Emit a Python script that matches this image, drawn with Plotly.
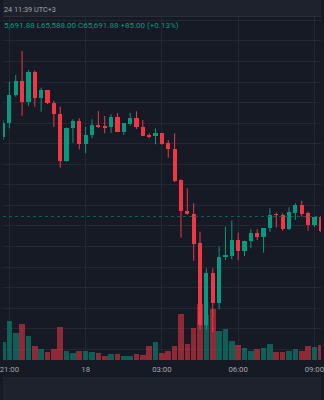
import pandas as pd
import plotly.graph_objects as go

# BTC 15-minute candles, 17 Jun 20:45 -> 18 Jun 09:15 (UTC+3)
times = pd.date_range("2024-06-17 20:45", periods=51, freq="15min")

opens = [66462.80, 66604.80, 66874.40, 67010.70, 66809.20, 67101.20, 66842.30, 66920.20,
         66796.60, 66692.40, 66235.00, 66550.30, 66621.40, 66397.50, 66485.10, 66582.50,
         66568.00, 66566.00, 66660.30, 66517.20, 66596.00, 66650.60, 66563.00, 66485.00,
         66475.50, 66501.70, 66404.40, 66346.00, 66044.30, 65748.40, 65719.20, 65431.20,
         64636.00, 65139.20, 64853.10, 65300.70, 65307.60, 65463.30, 65359.10, 65453.50,
         65528.50, 65495.40, 65577.10, 65713.40, 65703.70, 65567.40, 65729.00, 65801.00,
         65723.10, 65606.88, 65691.88]
highs = [66631.00, 67003.90, 67069.00, 67302.60, 67117.70, 67112.90, 66945.50, 66923.00,
         66819.00, 66760.50, 66558.00, 66637.90, 66647.70, 66565.90, 66637.90, 66718.70,
         66670.00, 66686.60, 66699.20, 66602.00, 66702.20, 66715.80, 66631.00, 66501.70,
         66550.30, 66505.00, 66436.50, 66501.70, 66054.00, 65966.40, 65820.40, 65544.00,
         65187.90, 65187.90, 65398.10, 65592.70, 65651.10, 65534.30, 65458.00, 65567.40,
         65567.40, 65580.00, 65771.80, 65729.00, 65723.10, 65781.50, 65820.40, 65845.70,
         65738.70, 65691.88, 65698.00]
lows = [66436.50, 66550.30, 66857.90, 66673.00, 66767.40, 66760.50, 66711.90, 66786.80,
        66563.00, 66166.90, 66225.30, 66410.00, 66346.00, 66307.00, 66453.00, 66553.30,
        66501.70, 66504.60, 66515.00, 66485.00, 66575.60, 66543.50, 66474.00, 66453.00,
        66394.60, 66390.00, 66264.20, 66027.70, 65485.70, 65711.00, 65261.80, 64587.40,
        64587.40, 64570.80, 64788.90, 65268.60, 65275.40, 65268.60, 65307.60, 65382.50,
        65463.30, 65339.70, 65544.00, 65586.90, 65553.80, 65560.60, 65657.90, 65690.00,
        65553.80, 65588.00, 65540.00]
closes = [66604.80, 66874.40, 67010.70, 66809.20, 67101.20, 66842.30, 66920.20, 66793.60,
          66692.40, 66235.00, 66556.20, 66621.40, 66397.50, 66485.10, 66579.50, 66565.90,
          66562.00, 66660.30, 66517.20, 66599.00, 66650.60, 66563.00, 66478.30, 66468.60,
          66501.70, 66397.50, 66346.00, 66040.40, 65748.40, 65716.30, 65424.30, 64636.00,
          65139.20, 64853.10, 65300.70, 65307.60, 65463.30, 65359.10, 65453.50, 65528.50,
          65495.40, 65577.10, 65706.60, 65706.60, 65567.40, 65732.80, 65801.00, 65719.20,
          65606.88, 65691.88, 65553.80]
volumes = [354, 786, 546, 726, 480, 280, 226, 160, 220, 666, 180, 140, 174, 174, 154, 134,
           86, 114, 126, 80, 80, 120, 100, 274, 360, 146, 174, 280, 920, 326, 646, 1120,
           900, 1014, 586, 620, 380, 300, 234, 180, 226, 246, 320, 166, 160, 180, 226, 180,
           274, 260, 300]

tick_times = ["2024-06-17 21:00", "2024-06-18 00:00", "2024-06-18 03:00",
              "2024-06-18 06:00", "2024-06-18 09:00"]
tick_labels = ["21:00", "18", "03:00", "06:00", "09:00"]

# visible part of the snapshot header and of the OHLC status line
header_text = "24 11:39 UTC+3"
status_text = "5,691.88 L65,588.00 C65,691.88 +85.00 (+0.13%)"

last_price = closes[49]

UP = "#089981"
DOWN = "#f23645"
UP_VOL = "rgba(8,153,129,0.55)"
DOWN_VOL = "rgba(242,54,69,0.55)"
BG = "#161a25"
BAND = "#1e222d"
GRID = "#232734"
TEXT = "#a3a6af"
FONT = "Roboto"

is_up = [c >= o for o, c in zip(opens, closes)]
candle_ms = 15 * 60 * 1000

fig = go.Figure()

# volume histogram on the base axis (drawn underneath the candles)
fig.add_trace(go.Bar(
    x=times, y=volumes, width=candle_ms * 0.88,
    marker=dict(color=[UP_VOL if u else DOWN_VOL for u in is_up], line=dict(width=0)),
    yaxis="y", hoverinfo="skip", showlegend=False,
))

# wicks
for flag, col in ((True, UP), (False, DOWN)):
    wx, wy = [], []
    for t, h, l, u in zip(times, highs, lows, is_up):
        if u == flag:
            wx += [t, t, None]
            wy += [l, h, None]
    fig.add_trace(go.Scatter(x=wx, y=wy, mode="lines", line=dict(color=col, width=1),
                             yaxis="y2", hoverinfo="skip", showlegend=False))

# candle bodies
body_lo = [min(o, c) for o, c in zip(opens, closes)]
body_h = [max(abs(c - o), 8) for o, c in zip(opens, closes)]
fig.add_trace(go.Bar(
    x=times, base=body_lo, y=body_h, width=candle_ms * 0.66,
    marker=dict(color=[UP if u else DOWN for u in is_up], line=dict(width=0)),
    yaxis="y2", hoverinfo="skip", showlegend=False,
))

H, W = 400, 324
TOP, BOT = 17, 40
ph = H - TOP - BOT

fig.update_layout(
    width=W, height=H,
    margin=dict(l=0, r=0, t=TOP, b=BOT),
    paper_bgcolor=BG, plot_bgcolor=BG,
    barmode="overlay", bargap=0,
    showlegend=False,
    font=dict(family=FONT, size=7.8, color=TEXT),
    xaxis=dict(
        type="date",
        range=["2024-06-17 20:44:56", "2024-06-18 09:15:32"],
        tickvals=tick_times, ticktext=tick_labels,
        showgrid=True, gridcolor=GRID, gridwidth=1,
        zeroline=False, showline=False, ticks="",
        ticklabeloverflow="allow", ticklabelstandoff=3,
        tickfont=dict(family=FONT, size=7.8, color=TEXT),
        fixedrange=True,
    ),
    yaxis=dict(range=[0, 6860], visible=False, showgrid=False, fixedrange=True),
    yaxis2=dict(
        overlaying="y", side="right",
        range=[64295.4, 67633.5], tick0=0, dtick=200,
        showgrid=True, gridcolor=GRID, gridwidth=1,
        showticklabels=False, zeroline=False, showline=False, ticks="",
        fixedrange=True,
    ),
    shapes=[
        # header strip and its bottom border
        dict(type="rect", xref="paper", yref="paper", x0=0, x1=1,
             y0=1, y1=1 + TOP / ph, fillcolor=BAND, line=dict(width=0), layer="below"),
        dict(type="line", xref="paper", yref="paper", x0=0, x1=1,
             y0=1 + 0.5 / ph, y1=1 + 0.5 / ph, line=dict(color="#2a2e39", width=1)),
        # footer strip below the time scale
        dict(type="rect", xref="paper", yref="paper", x0=0, x1=1,
             y0=-BOT / ph, y1=-(BOT - 23) / ph, fillcolor=BAND, line=dict(width=0),
             layer="below"),
        # last price line
        dict(type="line", xref="paper", yref="y2", x0=0, x1=1,
             y0=last_price, y1=last_price,
             line=dict(color="#0c5f55", width=1, dash="dot")),
    ],
    annotations=[
        dict(text=header_text, xref="paper", yref="paper",
             x=0, xanchor="left", y=1 + (TOP - 9.5) / ph, yanchor="middle",
             borderpad=0, showarrow=False, font=dict(family=FONT, size=7.3, color=TEXT)),
        dict(text=status_text, xref="paper", yref="paper",
             x=0, xanchor="left", y=1 - 8.5 / ph, yanchor="middle",
             borderpad=0, showarrow=False, font=dict(family=FONT, size=8.0, color=UP)),
    ],
)

fig.write_html("out.html")
